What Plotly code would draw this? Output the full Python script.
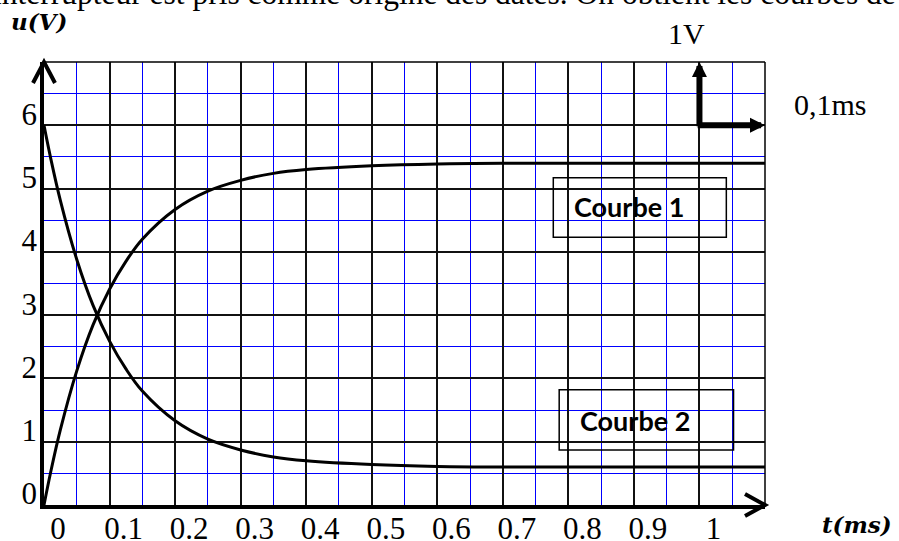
import plotly.graph_objects as go

# ---- data ----
t_ms = [0, 0.01, 0.025, 0.05, 0.075, 0.1, 0.125, 0.15, 0.2, 0.25, 0.3, 0.35,
        0.4, 0.5, 0.6, 0.7, 0.8, 0.9, 1.0, 1.1]
courbe1 = [0, 0.51, 1.19, 2.12, 2.85, 3.41, 3.85, 4.20, 4.67, 4.96, 5.13, 5.24,
           5.30, 5.36, 5.39, 5.40, 5.40, 5.40, 5.40, 5.40]
courbe2 = [6, 5.49, 4.81, 3.88, 3.15, 2.59, 2.15, 1.80, 1.33, 1.04, 0.87, 0.76,
           0.70, 0.64, 0.61, 0.60, 0.60, 0.60, 0.60, 0.60]

x_tick_vals = [0, 0.1, 0.2, 0.3, 0.4, 0.5, 0.6, 0.7, 0.8, 0.9, 1.0]
x_tick_text = ["0", "0.1", "0.2", "0.3", "0.4", "0.5", "0.6", "0.7", "0.8", "0.9", "1"]
y_tick_vals = [0, 1, 2, 3, 4, 5, 6]
y_tick_text = ["0", "1", "2", "3", "4", "5", "6"]

X_RANGE = [0, 1.1]
Y_RANGE = [0, 7]
XLAB_SHIFT = 0.0214
YLAB_SHIFT = 0.18

SERIF = "Liberation Serif"
BOLDSERIF = "DejaVu Serif"

fig = go.Figure()
fig.add_trace(go.Scatter(x=t_ms, y=courbe1, mode="lines",
                         line=dict(color="black", width=3, shape="spline"),
                         showlegend=False, hoverinfo="skip"))
fig.add_trace(go.Scatter(x=t_ms, y=courbe2, mode="lines",
                         line=dict(color="black", width=3, shape="spline"),
                         showlegend=False, hoverinfo="skip"))
# invisible trace to activate label axes
fig.add_trace(go.Scatter(x=[0.5], y=[3], xaxis="x2", yaxis="y2", mode="markers",
                         marker=dict(opacity=0), showlegend=False, hoverinfo="skip"))

W, H = 721, 443
fig.update_layout(
    width=899, height=541,
    margin=dict(l=44, r=134, t=62, b=36, autoexpand=False),
    paper_bgcolor="white", plot_bgcolor="white",
    xaxis=dict(range=X_RANGE, dtick=0.1, tick0=0, showgrid=True, automargin=False,
               gridcolor="#111111", gridwidth=1.5, showticklabels=False,
               ticks="", zeroline=False, showline=True, linecolor="black",
               linewidth=4,
               minor=dict(dtick=0.05, tick0=0, showgrid=True, gridcolor="#0000ff",
                          gridwidth=1, ticks="")),
    yaxis=dict(range=Y_RANGE, dtick=1, tick0=0, showgrid=True, automargin=False,
               gridcolor="#111111", gridwidth=1.5, showticklabels=False,
               ticks="", zeroline=False, showline=True, linecolor="black",
               linewidth=4,
               minor=dict(dtick=0.5, tick0=0, showgrid=True, gridcolor="#0000ff",
                          gridwidth=1, ticks="")),
    xaxis2=dict(overlaying="x", anchor="y2", side="bottom", automargin=False,
                range=[X_RANGE[0] - XLAB_SHIFT, X_RANGE[1] - XLAB_SHIFT],
                tickmode="array", tickvals=x_tick_vals, ticktext=x_tick_text,
                showgrid=False, zeroline=False, showline=False, ticks="",
                ticklabelstandoff=2,
                tickfont=dict(family=SERIF, size=31, color="black")),
    yaxis2=dict(overlaying="y", anchor="x2", side="left", automargin=False,
                range=[Y_RANGE[0] - YLAB_SHIFT, Y_RANGE[1] - YLAB_SHIFT],
                tickmode="array", tickvals=y_tick_vals, ticktext=y_tick_text,
                showgrid=False, zeroline=False, showline=False, ticks="",
                ticklabelstandoff=6,
                tickfont=dict(family=SERIF, size=31, color="black")),
)

# borders (top & right)
fig.add_shape(type="line", xref="paper", yref="paper", x0=0, x1=1, y0=1, y1=1,
              line=dict(color="black", width=1.5))
fig.add_shape(type="line", xref="paper", yref="paper", x0=1, x1=1, y0=0, y1=1,
              line=dict(color="black", width=1.5))
# axis arrowheads (chevrons)
fig.add_shape(type="path", xref="paper", yref="paper",
              path=f"M {1-20/W} {11/H} L 1 0 L {1-20/W} {-11/H}",
              line=dict(color="black", width=4))
fig.add_shape(type="path", xref="paper", yref="paper",
              path=f"M {-11/W} {1-21/H} L 0 1 L {11/W} {1-21/H}",
              line=dict(color="black", width=4))

# label boxes
fig.add_shape(type="rect", xref="x", yref="y", x0=0.777, x1=1.041, y0=4.23, y1=5.17,
              line=dict(color="black", width=1.5))
fig.add_shape(type="rect", xref="x", yref="y", x0=0.786, x1=1.052, y0=0.87, y1=1.82,
              line=dict(color="black", width=1.5))
fig.add_annotation(x=0.892, y=4.72, xref="x", yref="y", text="<b>Courbe 1</b>",
                   xanchor="center", yanchor="middle",
                   showarrow=False, font=dict(family="Lato", size=27, color="black"))
fig.add_annotation(x=0.902, y=1.33, xref="x", yref="y", text="<b>Courbe 2</b>",
                   xanchor="center", yanchor="middle",
                   showarrow=False, font=dict(family="Lato", size=27, color="black"))

# scale marker
fig.add_annotation(x=1.0, y=7.0, ax=1.0, ay=5.96, xref="x", yref="y", axref="x", ayref="y",
                   text="", showarrow=True, arrowhead=2, arrowsize=0.5, arrowwidth=6,
                   arrowcolor="black")
fig.add_annotation(x=1.1, y=6.0, ax=0.995, ay=6.0, xref="x", yref="y", axref="x", ayref="y",
                   text="", showarrow=True, arrowhead=2, arrowsize=0.5, arrowwidth=6,
                   arrowcolor="black")
fig.add_annotation(x=(686 - 44) / W, y=(505 - 33) / H, xref="paper", yref="paper",
                   xanchor="center", yanchor="middle",
                   text="1V", showarrow=False,
                   font=dict(family=SERIF, size=30, color="black"))
fig.add_annotation(x=(792 - 44) / W, y=(505 - 104) / H, xref="paper", yref="paper",
                   xanchor="left", yanchor="middle", text="0,1ms", showarrow=False,
                   font=dict(family=SERIF, size=30, color="black"))

# axis titles
fig.add_annotation(x=(39 - 44) / W, y=(505 - 21) / H, xref="paper", yref="paper",
                   xanchor="center", yanchor="middle",
                   text="<b><i>u(V)</i></b>", showarrow=False,
                   font=dict(family=BOLDSERIF, size=23, color="black"))
fig.add_annotation(x=(857 - 44) / W, y=(505 - 524) / H, xref="paper", yref="paper",
                   xanchor="center", yanchor="middle",
                   text="<b><i>t(ms)</i></b>", showarrow=False,
                   font=dict(family=BOLDSERIF, size=23, color="black"))

# cropped sentence at the top
fig.add_annotation(x=(-9 - 44) / W, y=(505 - 13) / H, xref="paper", yref="paper",
                   xanchor="left", yanchor="bottom", showarrow=False,
                   text="interrupteur est pris comme origine des dates. On obtient les courbes de",
                   font=dict(family=SERIF, size=31.5, color="black"))

fig.write_html(
    "out.html",
    config={"displayModeBar": False},
    post_script="document.body.style.margin='0';document.body.style.padding='0';"
                "document.body.style.overflow='hidden';",
)
